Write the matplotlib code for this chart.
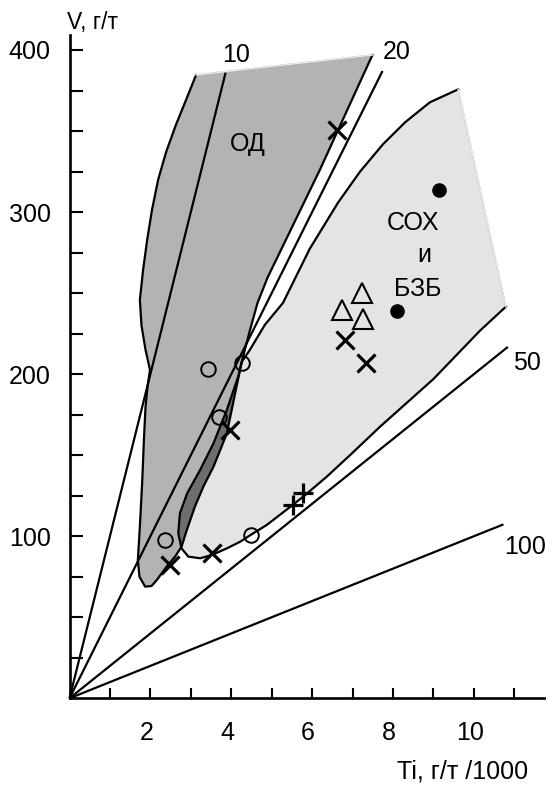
import numpy as np
import matplotlib
matplotlib.use('Agg')
import matplotlib.pyplot as plt
from matplotlib.patches import Polygon
from matplotlib.transforms import ScaledTranslation

plt.rcParams['font.family'] = ['Liberation Sans', 'DejaVu Sans']

# Ti/V reference rays (Ti in g/t /1000, V in g/t)
ratios = [10, 20, 50, 100]
ray_end_ti = [3.86, 7.74, 10.84, 10.73]
ray_label_ti = [4.13, 8.08, 11.31, 11.26]
ray_label_v = [397, 398.7, 206.7, 93.2]

# field of ОД (starts at top-right corner, goes round clockwise, ends top-left)
od_ti = [7.49, 6.19, 4.90, 4.65, 4.45, 4.26, 4.13, 4.01, 3.89, 3.76, 3.56, 3.31,
         3.10, 2.90, 2.77, 2.61, 2.40, 2.16, 2.03, 1.87, 1.73, 1.69, 1.74, 1.80,
         1.84, 1.88, 1.93, 1.99, 1.88, 1.78, 1.74, 1.82, 1.92, 2.04, 2.19, 2.39,
         2.63, 2.88, 3.13]
od_v = [396.9, 326.0, 259.7, 244.0, 226.0, 207.6, 192.3, 177.9, 163.5, 155.2, 142.9, 130.6,
        118.2, 103.8, 93.5, 87.4, 81.2, 73.0, 69.3, 68.9, 75.0, 85.3, 105.9, 134.8,
        159.5, 179.9, 192.3, 202.6, 215.0, 230.0, 245.8, 264.3, 282.8, 301.3, 319.8, 337.1,
        353.7, 369.1, 384.6]

# field of СОХ и БЗБ (starts at top-right corner, ends at right corner)
sox_ti = [9.61, 8.91, 8.30, 7.75, 7.18, 6.64, 5.94, 5.28, 4.83, 4.46, 4.26, 4.17,
          3.89, 3.56, 3.23, 2.91, 2.73, 2.69, 2.77, 2.94, 3.23, 3.52, 3.89, 4.22,
          4.48, 4.88, 5.37, 5.78, 6.36, 6.94, 7.68, 9.00, 10.15, 10.79]
sox_v = [375.7, 367.7, 355.4, 341.8, 324.8, 305.8, 277.3, 244.0, 230.4, 215.0, 207.6, 198.4,
         177.9, 157.3, 140.9, 126.5, 114.1, 101.8, 92.5, 87.4, 86.4, 88.4, 92.5, 96.6,
         100.8, 107.0, 116.4, 124.4, 136.7, 150.1, 167.6, 197.0, 226.8, 241.6]

# samples
circ_ti = [3.43, 4.26, 3.70, 2.36, 4.48]
circ_v = [203.2, 206.7, 173.7, 97.7, 100.8]
cross_ti = [6.62, 6.81, 7.33, 3.97, 2.49, 3.52]
cross_v = [350.7, 221.0, 207.0, 165.5, 82.2, 89.5]
plus_ti = [5.52, 5.78]
plus_v = [119.3, 126.9]
tri_ti = [7.23, 6.73, 7.25]
tri_v = [249.9, 239.6, 233.8]
dot_ti = [9.14, 8.09]
dot_v = [313.6, 238.9]

W, H = 546, 785
x0, y0 = 69.5, 698.3
fig = plt.figure(figsize=(W / 100, H / 100), dpi=100)
ax = fig.add_axes([x0 / W, (H - y0) / H, (W - x0) / W, (y0 - 35) / H])
ax.set_xlim(0, (W - x0) / 40.44)
ax.set_ylim(0, (y0 - 35) / 1.6208)

lw = 1.6
fs = 18

# filled fields
sox_xy = np.column_stack([sox_ti, sox_v])
od_xy = np.column_stack([od_ti, od_v])
sox_patch = Polygon(sox_xy, closed=True, fc='#e4e4e4', ec='none', zorder=1)
od_patch = Polygon(od_xy, closed=True, fc='#b3b3b3', ec='none', zorder=2)
ax.add_patch(sox_patch)
ax.add_patch(od_patch)
overlap = Polygon(sox_xy, closed=True, fc='#6e6e6e', ec='none', zorder=3)
ax.add_patch(overlap)
overlap.set_clip_path(od_patch)

# outlines (open edges left without black line)
ax.plot(od_ti, od_v, color='black', lw=lw, zorder=4, solid_joinstyle='round')
ax.plot(sox_ti, sox_v, color='black', lw=lw, zorder=4, solid_joinstyle='round')
for xs, ys in [([od_ti[-1], od_ti[0]], [od_v[-1], od_v[0]]),
               ([sox_ti[-1], sox_ti[0]], [sox_v[-1], sox_v[0]])]:
    ax.plot(xs, ys, color='#c4c4c4', lw=1.2, zorder=4)
    ax.plot(xs, ys, color='white', lw=0.5, zorder=4)

# rays of constant Ti/V
for r, te, lx, ly in zip(ratios, ray_end_ti, ray_label_ti, ray_label_v):
    ax.plot([0, te], [0, te * 1000 / r], color='black', lw=lw, zorder=5,
            solid_capstyle='butt', clip_on=False)
    ax.text(lx, ly, str(r), fontsize=fs, ha='center', va='center', clip_on=False)

# samples
ax.plot(circ_ti, circ_v, 'o', ms=10.5, mfc='none', mec='black', mew=1.4, zorder=6)
ax.plot(cross_ti, cross_v, 'x', ms=12.5, mec='black', mew=2.3, zorder=6)
ax.plot(plus_ti, plus_v, '+', ms=15, mec='black', mew=2.3, zorder=6)
ax.plot(tri_ti, tri_v, '^', ms=14, mfc='none', mec='black', mew=1.5, zorder=6)
ax.plot(dot_ti, dot_v, 'o', ms=9.5, mfc='black', mec='black', zorder=6)

# field names
ax.text(4.42, 342, 'ОД', fontsize=fs, ha='center', va='center')
ax.text(8.50, 293.1, 'СОХ', fontsize=fs, ha='center', va='center')
ax.text(8.77, 273.5, 'и', fontsize=fs, ha='center', va='center')
ax.text(8.60, 252.3, 'БЗБ', fontsize=fs, ha='center', va='center')

# axes
for s in ['top', 'right']:
    ax.spines[s].set_visible(False)
for s in ['left', 'bottom']:
    ax.spines[s].set_linewidth(1.9)
ax.set_xticks([2, 4, 6, 8, 10])
ax.set_xticks(range(1, 12), minor=True)
ax.set_yticks([100, 200, 300, 400])
ax.set_yticks(np.arange(25, 409, 25), minor=True)
ax.tick_params(axis='x', which='both', direction='in', length=7.2, width=1.5,
               pad=16.5, labelsize=fs)
ax.tick_params(axis='y', which='both', direction='in', length=9.4, width=1.5,
               pad=13.5, labelsize=fs)
shift = ScaledTranslation(-3 / 72, 0, fig.dpi_scale_trans)
for lab in ax.get_xticklabels():
    lab.set_transform(lab.get_transform() + shift)

ax.text(0.56, 412.8, 'V, г/т', fontsize=16.5, ha='center', va='baseline', clip_on=False)
ax.text(9.72, -49.4, 'Ti, г/т /1000', fontsize=18, ha='center', va='baseline',
        clip_on=False)

fig.savefig('out.png', dpi=100)
